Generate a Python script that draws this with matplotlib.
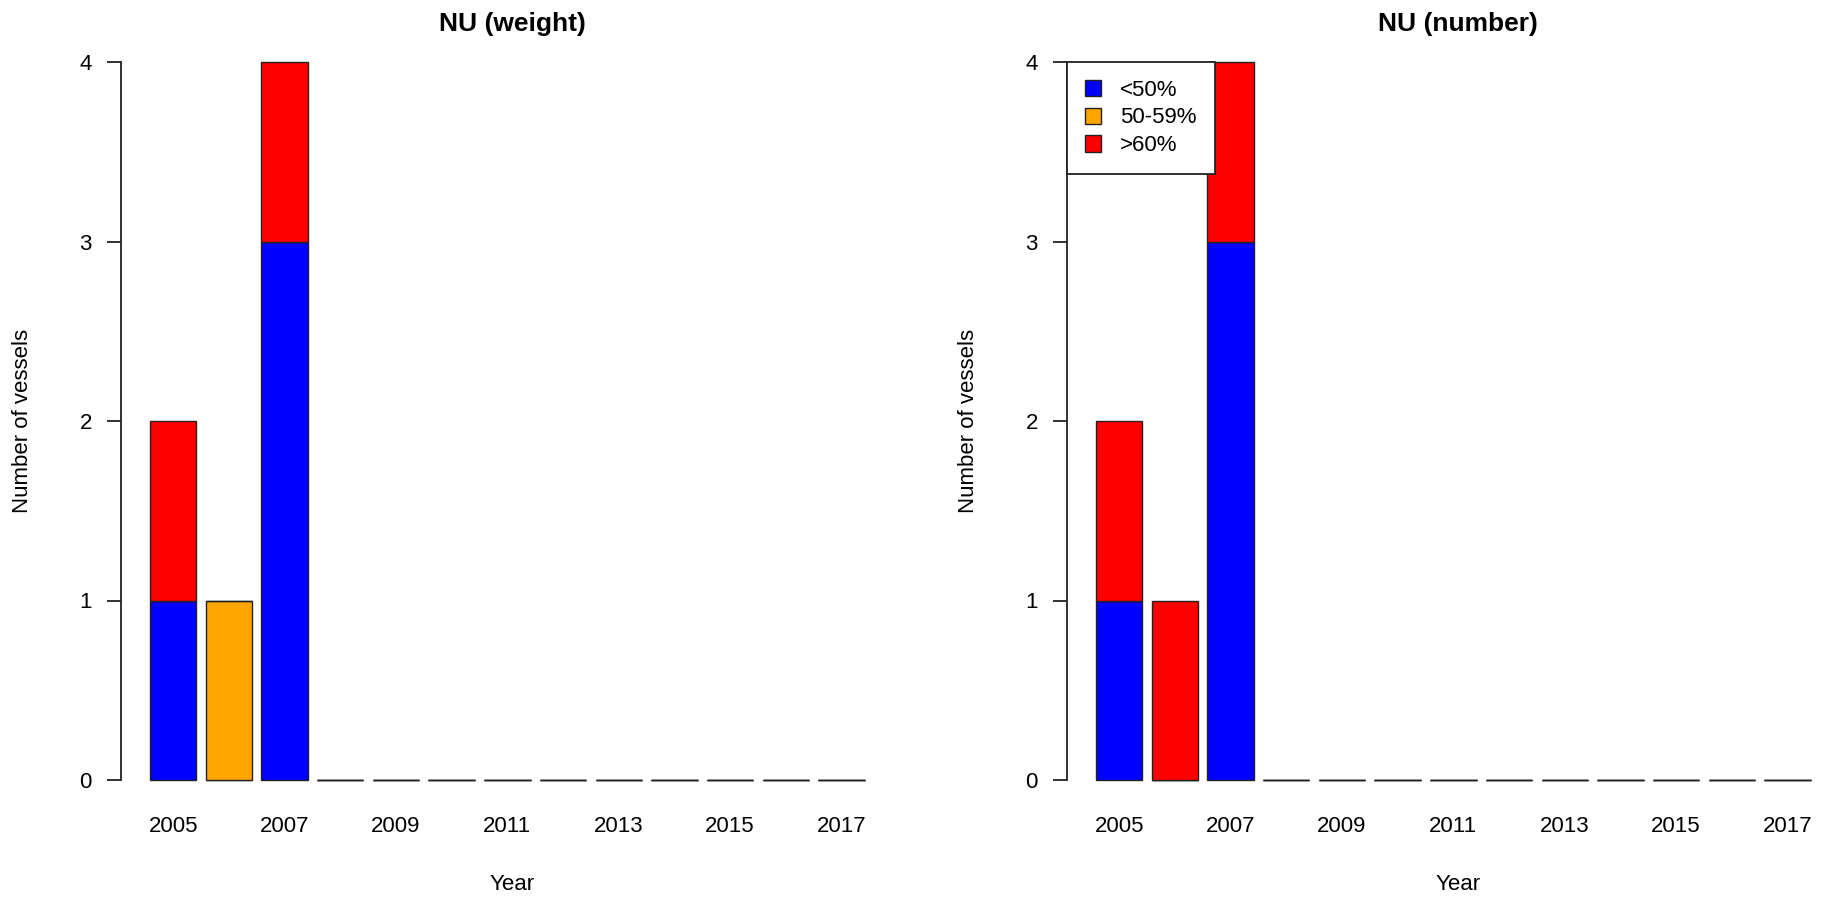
import numpy as np
import matplotlib
matplotlib.use('Agg')
import matplotlib.pyplot as plt

plt.rcParams['font.family'] = ['Liberation Sans', 'DejaVu Sans']

years = list(range(2005, 2018))
labels = ['<50%', '50-59%', '>60%']
colors = ['blue', 'orange', 'red']

# stacked counts per year: <50%, 50-59%, >60%
weight_lt50 = [1, 0, 3, 0, 0, 0, 0, 0, 0, 0, 0, 0, 0]
weight_50_59 = [0, 1, 0, 0, 0, 0, 0, 0, 0, 0, 0, 0, 0]
weight_gt60 = [1, 0, 1, 0, 0, 0, 0, 0, 0, 0, 0, 0, 0]

number_lt50 = [1, 0, 3, 0, 0, 0, 0, 0, 0, 0, 0, 0, 0]
number_50_59 = [0, 0, 0, 0, 0, 0, 0, 0, 0, 0, 0, 0, 0]
number_gt60 = [1, 1, 1, 0, 0, 0, 0, 0, 0, 0, 0, 0, 0]

panels = [
    ('NU (weight)', [weight_lt50, weight_50_59, weight_gt60], False),
    ('NU (number)', [number_lt50, number_50_59, number_gt60], True),
]

W, H = 1833, 901
fig = plt.figure(figsize=(W / 100, H / 100), dpi=100)

# R barplot style: width 1, space 0.2
x = 0.7 + 1.2 * np.arange(len(years))
lefts_px = [121, 1067]

for (title, series, show_legend), lpx in zip(panels, lefts_px):
    ax = fig.add_axes([lpx / W, (H - 780) / H, 782 / W, 718 / H])
    bottom = np.zeros(len(years))
    handles = []
    for vals, c, lab in zip(series, colors, labels):
        bars = ax.bar(x, vals, width=1.0, bottom=bottom, color=c,
                      edgecolor='#222222', linewidth=1.0, label=lab, clip_on=False)
        handles.append(bars)
        bottom += np.array(vals)

    ax.set_xlim(0.2 - 0.624, 15.8 + 0.624)
    ax.set_ylim(0, 4)
    for s in ['top', 'right', 'bottom']:
        ax.spines[s].set_visible(False)
    ax.spines['left'].set_bounds(0, 4)
    ax.spines['left'].set_linewidth(1.3)
    ax.spines['left'].set_color('#222222')

    ax.set_yticks([0, 1, 2, 3, 4])
    ax.tick_params(axis='y', length=10, width=1.3, pad=11, labelsize=16, color='#222222')
    ax.set_xticks(x[::2])
    ax.set_xticklabels([str(y) for y in years[::2]])
    ax.tick_params(axis='x', length=0, pad=26, labelsize=16)

    ax.set_title(title, fontsize=19, fontweight='bold', pad=22)
    ax.set_xlabel('Year', fontsize=16)
    ax.xaxis.set_label_coords(0.5, -0.146)
    ax.xaxis.label.set_va('center')
    ax.set_ylabel('Number of vessels', fontsize=16)
    ax.yaxis.set_label_coords(-0.126, 0.5)
    ax.yaxis.label.set_va('center')

    if show_legend:
        leg = ax.legend(handles=handles, loc='upper left', bbox_to_anchor=(0, 1),
                        borderaxespad=0, fontsize=16, fancybox=False, framealpha=1,
                        edgecolor='#222222', handlelength=0.75, handleheight=0.75,
                        handletextpad=0.85, borderpad=0.8, labelspacing=0.3)
        leg.get_frame().set_linewidth(1.3)

fig.savefig('out.png', dpi=100)
